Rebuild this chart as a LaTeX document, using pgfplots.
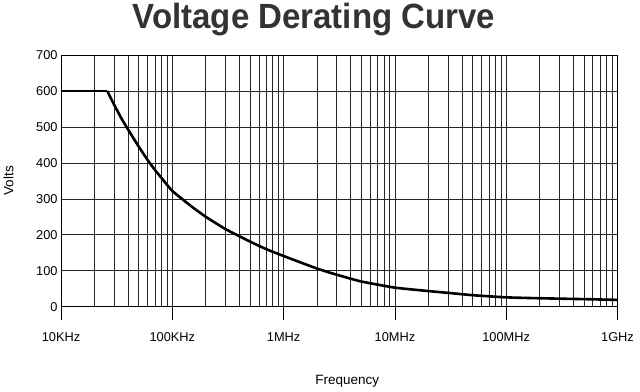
\documentclass[border=0pt]{standalone}
\usepackage{pgfplots}
\pgfplotsset{compat=1.18}
\usepackage{fontspec}
\setmainfont{Liberation Sans}
\begin{document}
\begin{tikzpicture}[x=1pt,y=1pt]
\useasboundingbox (-61,-84.3) rectangle (579,306.7);
\begin{axis}[
  scale only axis,
  width=556.5pt, height=251.7pt,
  xmode=log, xmin=1e4, xmax=1e9, ymin=0, ymax=700,
  xtick={1e4,1e5,1e6,1e7,1e8,1e9},
  xticklabels={10KHz,100KHz,1MHz,10MHz,100MHz,1GHz},
  ytick={0,100,200,300,400,500,600,700},
  minor xtick={2e4,3e4,4e4,5e4,6e4,7e4,8e4,9e4,2e5,3e5,4e5,5e5,6e5,7e5,8e5,9e5,2e6,3e6,4e6,5e6,6e6,7e6,8e6,9e6,2e7,3e7,4e7,5e7,6e7,7e7,8e7,9e7,2e8,3e8,4e8,5e8,6e8,7e8,8e8,9e8},
  xmajorgrids=true, xminorgrids=true, ymajorgrids=true,
  major grid style={black!85, line width=0.65pt},
  minor grid style={black!85, line width=0.65pt},
  axis line style={black, line width=0.7pt},
  tick align=outside,
  major tick length=13pt, minor tick length=0pt,
  xtick pos=bottom, ytick pos=left,
  x tick style={black, line width=0.8pt},
  y tick style={draw=none},
  /pgf/number format/assume math mode=true,
  tick label style={font=\fontsize{12.8}{14}\selectfont},
  xticklabel style={yshift=-9pt},
  yticklabel style={xshift=13pt},
  label style={font=\fontsize{13.5}{16}\selectfont},
  xlabel={Frequency},
  xlabel style={at={(axis description cs:0.5144,-0.311)}, anchor=base},
  ylabel={Volts},
  ylabel style={at={(axis description cs:-0.0857,0.5)}, anchor=base},
  every axis title shift=0pt,
  title={Voltage Derating Curve},
  title style={at={(axis description cs:0.4545,1.106)}, anchor=base,
    font=\fontsize{35}{40}\selectfont\bfseries, text=black!80, xscale=0.943},
]
\addplot[black, line width=2.6pt] coordinates {(1e4,600) (2.6e4,600)};
\addplot[black, line width=2.6pt, smooth, tension=0.3] coordinates {
  (2.6e4,600) (3e4,562) (3.5e4,523) (4e4,493) (5e4,445) (6e4,408) (7e4,380)
  (8e4,358) (1e5,322) (1.5e5,278) (2e5,250) (3e5,216) (5e5,181) (7e5,160)
  (1e6,141) (2e6,106) (3e6,89) (5e6,70) (1e7,53) (2e7,43.5) (3e7,38.5)
  (5e7,32) (1e8,26) (2e8,23.5) (5e8,21) (1e9,19)};
\end{axis}
\end{tikzpicture}
\end{document}
